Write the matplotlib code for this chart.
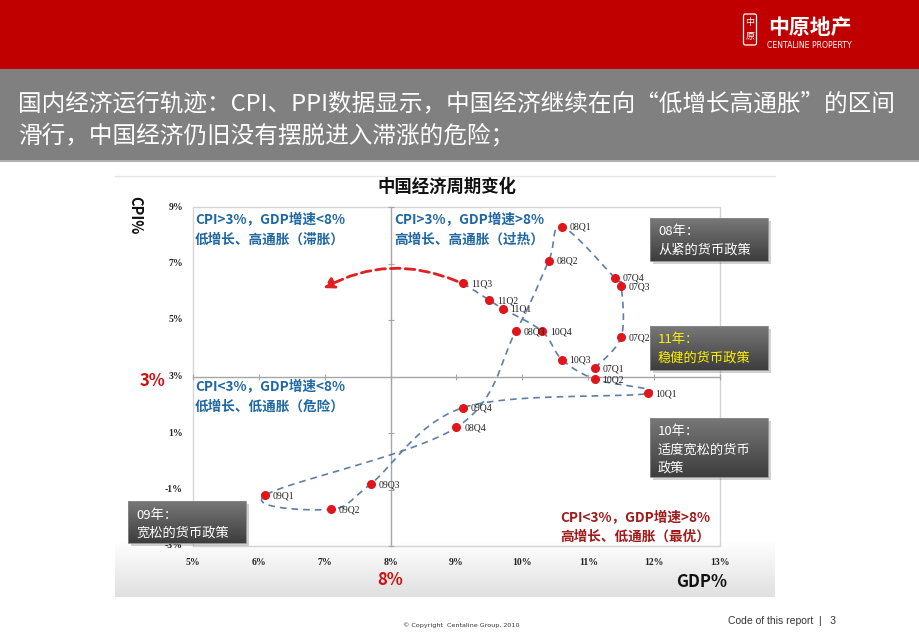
import numpy as np
import matplotlib
matplotlib.use("Agg")
import matplotlib.pyplot as plt
from matplotlib.patches import Rectangle, FancyArrowPatch, FancyBboxPatch

plt.rcParams['font.family'] = ['Noto Sans CJK SC', 'DejaVu Sans']

# ---------------- data ----------------
quarters = ['07Q1', '07Q2', '07Q3', '07Q4', '08Q1', '08Q2', '08Q3', '08Q4',
            '09Q1', '09Q2', '09Q3', '09Q4', '10Q1', '10Q2', '10Q3', '10Q4',
            '11Q1', '11Q2', '11Q3']
gdp = [11.1, 11.5, 11.5, 11.4, 10.6, 10.4, 9.9, 9.0,
       6.1, 7.1, 7.7, 9.1, 11.9, 11.1, 10.6, 10.3,
       9.7, 9.5, 9.1]
cpi = [3.3, 4.4, 6.2, 6.5, 8.3, 7.1, 4.6, 1.2,
       -1.2, -1.7, -0.8, 1.9, 2.4, 2.9, 3.6, 4.6,
       5.4, 5.7, 6.3]
x_ticks = [5, 6, 7, 8, 9, 10, 11, 12, 13]
x_ticklabels = ['5%', '6%', '7%', '8%', '9%', '10%', '11%', '12%', '13%']
y_ticks = [9, 7, 5, 3, 1, -1, -3]
y_ticklabels = ['9%', '7%', '5%', '3%', '1%', '-1%', '-3%']
gdp_threshold = 8
cpi_threshold = 3

W, H = 920, 636
fig = plt.figure(figsize=(W / 100, H / 100), dpi=100)

# ---------------- background / slide frame (pixel coords) ----------------
bg = fig.add_axes([0, 0, 1, 1], zorder=0)
bg.set_xlim(0, W)
bg.set_ylim(H, 0)
bg.axis('off')

bg.add_patch(Rectangle((0, 0), W, 69, color='#C00000', lw=0))
bg.add_patch(Rectangle((0, 69), W, 91, color='#808080', lw=0))
bg.add_patch(Rectangle((0, 160), W, 2, color='#B0B0B0', lw=0))

# chart picture area with soft gradient at bottom
grad = np.linspace(0, 1, 200)[:, None]
grad = np.clip((grad - 0.87) / 0.13, 0, 1)
img = np.ones((200, 2, 3))
for c in range(3):
    img[:, :, c] = 1 - 0.12 * grad
bg.imshow(img, extent=(115, 775, 597, 175), aspect='auto', zorder=0.5)
bg.plot([115, 775], [176, 176], color='#E6E6E6', lw=1, zorder=0.6)

# logo
bg.add_patch(FancyBboxPatch((743.5, 14), 13, 31, boxstyle='round,pad=0,rounding_size=2',
                            fc='none', ec='white', lw=0.9))
bg.text(750, 22, '中', color='white', fontsize=6.5, ha='center', va='center')
bg.text(750, 37, '原', color='white', fontsize=6.5, ha='center', va='center')
bg.text(810, 27, '中原地产', color='white', fontsize=15, fontweight='bold',
        ha='center', va='center')
bg.text(809, 45, 'CENTALINE PROPERTY', color='white', fontsize=5.6,
        ha='center', va='center', family=['DejaVu Sans'])

# header text
bg.text(18, 104, '国内经济运行轨迹：CPI、PPI数据显示，中国经济继续在向“低增长高通胀”的区间',
        color='white', fontsize=17, ha='left', va='center')
bg.text(18, 136, '滑行，中国经济仍旧没有摆脱进入滞涨的危险；',
        color='white', fontsize=17, ha='left', va='center')

# footer
bg.text(403, 625, '© Copyright  Centaline Group, 2010', fontsize=4.6, color='#333333',
        ha='left', va='center', family=['DejaVu Sans'])
bg.text(728, 621, 'Code of this report  |   3', fontsize=7.5, color='#333333',
        ha='left', va='center', family=['Liberation Sans'])

# chart title and axis titles
bg.text(447, 187, '中国经济周期变化', fontsize=12.5, fontweight='bold', color='#111111',
        ha='center', va='center')
bg.text(135, 215, 'CPI%', fontsize=10.5, fontweight='bold', color='#111111',
        rotation=-90, ha='center', va='center')
bg.text(152, 381, '3%', fontsize=12, fontweight='bold', color='#D01010',
        ha='center', va='center')
bg.text(390, 580, '8%', fontsize=12, fontweight='bold', color='#D01010',
        ha='center', va='center')
bg.text(702, 582, 'GDP%', fontsize=12, fontweight='bold', color='#111111',
        ha='center', va='center')

# ---------------- main chart ----------------
x0, x1, y0, y1 = 193, 720, 207, 546
ax = fig.add_axes([x0 / W, 1 - y1 / H, (x1 - x0) / W, (y1 - y0) / H], zorder=2)
ax.patch.set_alpha(0)
ax.set_xlim(x_ticks[0], x_ticks[-1])
ax.set_ylim(min(y_ticks), max(y_ticks))

for s in ['top', 'right']:
    ax.spines[s].set_visible(False)
ax.spines['left'].set_position(('data', gdp_threshold))
ax.spines['bottom'].set_position(('data', cpi_threshold))
for s in ['left', 'bottom']:
    ax.spines[s].set_color('#A6A6A6')
    ax.spines[s].set_linewidth(1.0)
ax.set_xticks(x_ticks)
ax.set_yticks(y_ticks)
ax.tick_params(axis='both', direction='inout', length=5, width=0.8, color='#A6A6A6',
               labelleft=False, labelbottom=False)
ax.add_patch(Rectangle((0, 0), 1, 1, transform=ax.transAxes, fill=False,
                       ec='#D4D4D4', lw=1.0, clip_on=False))

tfont = dict(family=['Liberation Serif'], fontsize=7, fontweight='bold', color='#222222')
for v, lab in zip(y_ticks, y_ticklabels):
    ax.text(-0.019, v, lab, transform=ax.get_yaxis_transform(), ha='right', va='center', **tfont)
for v, lab in zip(x_ticks, x_ticklabels):
    ax.text(v, -0.048, lab, transform=ax.get_xaxis_transform(), ha='center', va='center', **tfont)


def smooth_path(xs, ys, n=40):
    P = np.column_stack([xs, ys]).astype(float)
    Pp = np.vstack([P[0], P, P[-1]])
    t = np.linspace(0, 1, n)[:, None]
    out = []
    for i in range(len(P) - 1):
        p0, p1, p2, p3 = Pp[i], Pp[i + 1], Pp[i + 2], Pp[i + 3]
        c1 = p1 + (p2 - p0) / 6.0
        c2 = p2 - (p3 - p1) / 6.0
        seg = ((1 - t) ** 3) * p1 + 3 * ((1 - t) ** 2) * t * c1 + 3 * (1 - t) * t ** 2 * c2 + t ** 3 * p2
        out.append(seg if i == 0 else seg[1:])
    out = np.vstack(out)
    return out[:, 0], out[:, 1]


sx, sy = smooth_path(gdp, cpi)
ax.plot(sx, sy, color='#5C7EA8', lw=1.2, ls=(0, (4, 3)), zorder=3)
ax.plot(gdp, cpi, 'o', color='#E0161B', ms=5.5, mec='#E0161B', zorder=4)
for q, gx, cy in zip(quarters, gdp, cpi):
    ax.annotate(q, (gx, cy), xytext=(5.5, -0.5), textcoords='offset points',
                fontsize=7, family=['Liberation Serif'], color='#222222',
                ha='left', va='center', zorder=5)

# red trend arrow from latest point
arrow = FancyArrowPatch((gdp[-1] - 0.05, cpi[-1] + 0.03), (6.95, 6.08),
                        connectionstyle='arc3,rad=0.25', arrowstyle='-|>,head_length=6,head_width=3.5',
                        color='#E02020', lw=2.0, ls=(0, (3.5, 1.8)), zorder=4, mutation_scale=1)
ax.add_patch(arrow)

# quadrant texts
blue = '#1F67A3'
qfont = dict(fontsize=9.8, fontweight='bold', color=blue, ha='left', va='center')
bg_q = fig.add_axes([0, 0, 1, 1], zorder=5)
bg_q.set_xlim(0, W)
bg_q.set_ylim(H, 0)
bg_q.axis('off')
bg_q.patch.set_alpha(0)
bg_q.text(195, 220, 'CPI>3%，GDP增速<8%', **qfont)
bg_q.text(195, 240, '低增长、高通胀（滞胀）', **qfont)
bg_q.text(394, 220, 'CPI>3%，GDP增速>8%', **qfont)
bg_q.text(394, 240, '高增长、高通胀（过热）', **qfont)
bg_q.text(195, 387, 'CPI<3%，GDP增速<8%', **qfont)
bg_q.text(195, 407, '低增长、低通胀（危险）', **qfont)
red = '#A01818'
bg_q.text(710, 518, 'CPI<3%，GDP增速>8%', fontsize=9.8, fontweight='bold', color=red,
          ha='right', va='center')
bg_q.text(635, 537, '高增长、低通胀（最优）', fontsize=9.8, fontweight='bold', color=red,
          ha='center', va='center')


def policy_box(x, y, w, h, lines, color='white'):
    bg_q.add_patch(Rectangle((x + 3, y + 3), w, h, color='#000000', alpha=0.18, lw=0))
    g = np.linspace(0, 1, 50)[:, None]
    im = np.zeros((50, 2, 3))
    top = np.array([0.47, 0.47, 0.47])
    bot = np.array([0.24, 0.24, 0.24])
    for c in range(3):
        im[:, :, c] = top[c] + (bot[c] - top[c]) * g
    bg_q.imshow(im, extent=(x, x + w, y + h, y), aspect='auto', zorder=2)
    bg_q.add_patch(Rectangle((x, y), w, h, fill=False, ec='#8A8A8A', lw=0.6, zorder=2.5))
    for i, ln in enumerate(lines):
        bg_q.text(x + 8, y + 14 + i * 18, ln, color=color, fontsize=9.5,
                  ha='left', va='center', zorder=3)


policy_box(650, 218, 118, 43, ['08年：', '从紧的货币政策'])
policy_box(650, 326, 118, 44, ['11年：', '稳健的货币政策'], color='#FFF200')
policy_box(650, 418, 118, 59, ['10年：', '适度宽松的货币', '政策'])
policy_box(128, 501, 118, 42, ['09年：', '宽松的货币政策'])
bg_q.set_xlim(0, W)
bg_q.set_ylim(H, 0)

fig.savefig('out.png', dpi=100)
